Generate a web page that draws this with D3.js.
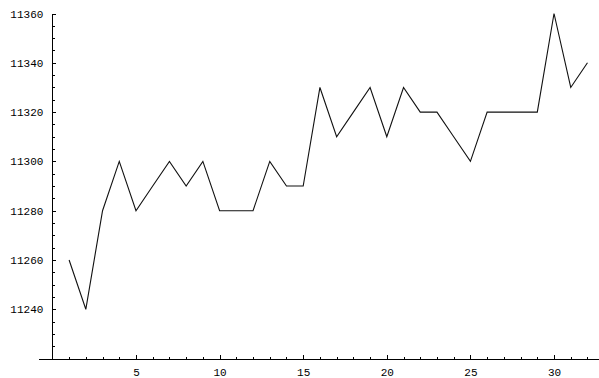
<!DOCTYPE html>
<html>
<head>
<meta charset="utf-8">
<script src="https://cdn.jsdelivr.net/npm/d3@7"></script>
<style>
  html, body { margin: 0; padding: 0; background: #fff; }
  svg { display: block; }
  .axis text { font-family: "Liberation Mono", "DejaVu Sans Mono", monospace; font-size: 11px; fill: #000; }
  .axis path, .axis line { stroke: #000; stroke-width: 1; shape-rendering: crispEdges; }
</style>
</head>
<body>
<svg id="chart" width="599" height="378"></svg>
<script>
const xValues = [1,2,3,4,5,6,7,8,9,10,11,12,13,14,15,16,17,18,19,20,21,22,23,24,25,26,27,28,29,30,31,32];
const yValues = [11260,11240,11280,11300,11280,11290,11300,11290,11300,11280,11280,11280,11300,11290,11290,11330,11310,11320,11330,11310,11330,11320,11320,11310,11300,11320,11320,11320,11320,11360,11330,11340];
const xTickLabels = [5,10,15,20,25,30];
const yTickLabels = [11240,11260,11280,11300,11320,11340,11360];

const svg = d3.select("#chart");

const x = d3.scaleLinear().domain([-0.86, 32.63]).range([38, 598]);
const y = d3.scaleLinear().domain([11220, 11360]).range([358.6, 13.5]);

const x0 = x(0);
const yBase = y(11220);

// minor ticks
const xMinor = d3.range(1, 33).filter(v => v % 5 !== 0);
const yMinor = d3.range(11225, 11360, 5).filter(v => v % 20 !== 0);

svg.append("g").attr("class", "axis")
  .attr("transform", `translate(0,${yBase})`)
  .call(d3.axisBottom(x).tickValues(xMinor).tickSize(-2).tickFormat(""))
  .call(g => g.select(".domain").remove());

svg.append("g").attr("class", "axis")
  .attr("transform", `translate(${x0},0)`)
  .call(d3.axisLeft(y).tickValues(yMinor).tickSize(-2.5).tickFormat(""))
  .call(g => g.select(".domain").remove());

// major axes
svg.append("g").attr("class", "axis")
  .attr("transform", `translate(0,${yBase})`)
  .call(d3.axisBottom(x).tickValues(xTickLabels).tickSize(-4).tickSizeOuter(0).tickPadding(9.5).tickFormat(d3.format("d")));

svg.append("g").attr("class", "axis")
  .attr("transform", `translate(${x0},0)`)
  .call(d3.axisLeft(y).tickValues(yTickLabels).tickSize(-4).tickSizeOuter(0).tickPadding(9).tickFormat(d3.format("d")));

// line
const line = d3.line().x((d, i) => x(xValues[i])).y(d => y(d));
svg.append("path")
  .datum(yValues)
  .attr("fill", "none")
  .attr("stroke", "#111")
  .attr("stroke-width", 1.1)
  .attr("stroke-linejoin", "miter")
  .attr("d", line);
</script>
</body>
</html>
